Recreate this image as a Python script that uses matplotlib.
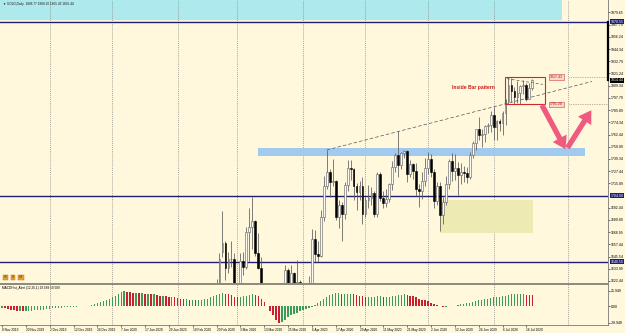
import numpy as np
import matplotlib
matplotlib.use('Agg')
import matplotlib.pyplot as plt
from matplotlib.patches import Rectangle
from matplotlib.lines import Line2D

plt.rcParams['font.family'] = ['Liberation Sans', 'DejaVu Sans']

BG = '#FFF8DC'
NAVY = '#1E1E74'
PINK = '#F05A7E'
FS = 2.5

# one bar per trading day, bar 0 = 8 Nov 2019, a date label every 8 bars
date_labels = ['8 Nov 2019', '20 Nov 2019', '2 Dec 2019', '12 Dec 2019', '24 Dec 2019',
               '7 Jan 2020', '17 Jan 2020', '29 Jan 2020', '10 Feb 2020', '20 Feb 2020',
               '3 Mar 2020', '13 Mar 2020', '25 Mar 2020', '6 Apr 2020', '17 Apr 2020',
               '29 Apr 2020', '11 May 2020', '21 May 2020', '2 Jun 2020', '12 Jun 2020',
               '24 Jun 2020', '6 Jul 2020', '16 Jul 2020']
month_bars = [16, 37, 59, 79, 101, 122, 143, 165, 190]

# candles from 18 Feb 2020 (bar 70) to 20 Jul 2020, earlier ones are below the window
start_bar = 70
opens = [1581, 1601, 1611, 1620, 1650, 1659, 1635, 1643, 1643, 1586,
         1590, 1641, 1636, 1669, 1674, 1680, 1649, 1635, 1577, 1530,
         1512, 1528, 1477, 1471, 1498, 1555, 1633, 1611, 1630, 1617,
         1621, 1577, 1591, 1613, 1620, 1662, 1648, 1646, 1683, 1713,
         1727, 1717, 1718, 1683, 1695, 1686, 1714, 1730, 1729, 1713,
         1707, 1713, 1686, 1700, 1702, 1706, 1686, 1725, 1702, 1697,
         1701, 1715, 1731, 1743, 1733, 1745, 1747, 1725, 1734, 1728,
         1710, 1708, 1718, 1730, 1739, 1727, 1699, 1713, 1685, 1698,
         1715, 1737, 1728, 1730, 1724, 1727, 1726, 1722, 1743, 1754,
         1768, 1762, 1763, 1771, 1772, 1781, 1770, 1775, 1774, 1783,
         1795, 1810, 1804, 1798, 1802, 1809, 1810, 1797, 1807]
highs = [1604, 1612, 1624, 1649, 1689, 1660, 1650, 1660, 1649, 1610,
         1649, 1650, 1674, 1692, 1703, 1681, 1668, 1645, 1594, 1575,
         1548, 1547, 1504, 1518, 1564, 1637, 1635, 1637, 1631, 1642,
         1623, 1594, 1617, 1627, 1672, 1671, 1660, 1690, 1723, 1747.7,
         1729, 1739, 1719, 1700, 1698, 1717, 1738, 1738, 1730, 1716,
         1718, 1722, 1703, 1714, 1712, 1708, 1727, 1727, 1708, 1710,
         1716, 1737, 1745, 1765.4, 1746, 1748, 1748, 1738, 1735, 1735,
         1715, 1727, 1740, 1746, 1744, 1729, 1717, 1717, 1703, 1723,
         1739, 1745, 1744, 1736, 1735, 1732, 1731, 1746, 1756, 1768,
         1779, 1768, 1772, 1774, 1785, 1789, 1776, 1777, 1785, 1797,
         1817.4, 1816.5, 1808, 1814, 1810, 1815, 1812, 1812, 1816]
lows = [1580, 1599, 1603, 1618, 1645, 1623, 1630, 1636, 1563, 1573,
        1585, 1628, 1634, 1641, 1653, 1646, 1634, 1567, 1504, 1451,
        1467, 1474, 1460, 1463, 1483, 1554, 1591, 1601, 1608, 1610,
        1571, 1567, 1576, 1605, 1612, 1640, 1640, 1645, 1680, 1710,
        1703, 1713, 1681, 1673, 1660, 1682, 1708, 1719, 1700, 1690,
        1700, 1677, 1683, 1692, 1695, 1683, 1683, 1699, 1692, 1693,
        1698, 1709, 1727, 1722, 1729, 1740, 1717, 1722, 1720, 1704,
        1693, 1701, 1713, 1725, 1722, 1692, 1695, 1670, 1677, 1695,
        1710, 1718, 1719, 1705, 1715, 1717, 1716, 1720, 1740, 1748,
        1757, 1751, 1755, 1764, 1765, 1757, 1757, 1766, 1762, 1772,
        1791.3, 1794, 1792, 1793, 1792, 1801, 1795, 1797, 1805]
closes = [1601, 1611, 1620, 1643, 1659, 1635, 1643, 1643, 1585, 1590,
          1641, 1636, 1669, 1674, 1680, 1649, 1635, 1577, 1530, 1512,
          1528, 1477, 1471, 1498, 1555, 1633, 1611, 1630, 1617, 1621,
          1577, 1591, 1613, 1620, 1662, 1648, 1646, 1683, 1713, 1727,
          1717, 1718, 1683, 1695, 1686, 1714, 1730, 1729, 1713, 1707,
          1713, 1686, 1700, 1702, 1706, 1686, 1725, 1702, 1697, 1701,
          1715, 1731, 1743, 1733, 1745, 1747, 1725, 1734, 1728, 1710,
          1708, 1718, 1730, 1739, 1727, 1699, 1713, 1685, 1698, 1715,
          1737, 1728, 1730, 1724, 1727, 1726, 1722, 1743, 1754, 1768,
          1762, 1763, 1771, 1772, 1781, 1770, 1775, 1774, 1783, 1795,
          1810, 1804, 1798, 1802, 1809, 1810, 1797, 1807, 1814.44]

# MACD histogram, bars 0..178
macd = [-3, -4, -5, -6, -7, -8, -8, -9, -9, -8,
        -8, -7, -7, -6, -6, -5, -5, -4, -4, -3,
        -3, -2, -2, -2, -1, -1, 0, 0, 1, 1,
        2, 3, 5, 7, 9, 11, 13, 16, 18, 21,
        24, 25.949, 25, 24, 23, 23, 22, 22, 21, 21,
        20, 20, 19, 18, 18, 17, 16, 16, 15, 14,
        13, 12, 12, 11, 11, 10, 10, 11, 12, 13,
        15, 17, 19, 21, 22, 21, 20, 19, 16, 15,
        16, 17, 18, 19, 20, 19, 17, 13, 7, 0,
        -8, -16, -23, -28.948, -27, -23, -19, -15, -13, -11,
        -9, -7, -5, -3, -1, 2, 5, 8, 12, 16,
        19, 21, 22, 22, 21, 21, 21, 21, 20, 19,
        18, 17, 16, 16, 16, 16, 17, 17, 16, 16,
        16, 17, 18, 19, 19, 20, 19, 18, 17, 15,
        13, 11, 10, 8, 6, 4, 2, 0, -1, -1,
        0, 0, 1, 2, 3, 4, 5, 6, 7, 9,
        10, 11, 12, 13, 14, 15, 15, 16, 17, 18,
        19, 20, 20, 20, 20, 20, 19.8, 19.7, 19.589]

price_ticks = [1879.65, 1867.79, 1856.24, 1844.34, 1832.79, 1821.24, 1809.34, 1797.79,
               1785.89, 1774.34, 1762.44, 1750.89, 1739.34, 1727.44, 1715.89, 1692.44,
               1680.89, 1668.99, 1657.44, 1645.54, 1633.99, 1622.44]
hlines = [1870.55, 1704.00, 1640.50]
bid = 1814.44
box_top, box_bottom = 1817.43, 1791.28
# trend line through the 14 Apr and 18 May highs
trend_bars = [109, 133]
trend_prices = [1747.7, 1765.4]


def setup_axes(fig):
    ax = fig.add_axes([0, 1 - 283 / 333, 608 / 625, 283 / 333])
    axm = fig.add_axes([0, 1 - 325 / 333, 608 / 625, 41 / 333])
    for a in (ax, axm):
        a.set_facecolor(BG)
        a.set_xlim(-0.67, 203.4)
        for s in ('top', 'left'):
            a.spines[s].set_visible(False)
        a.spines['right'].set_color('#777777')
        a.spines['right'].set_linewidth(0.6)
        a.spines['bottom'].set_color('#777777')
        a.spines['bottom'].set_linewidth(0.6)
        a.yaxis.tick_right()
        a.tick_params(axis='y', direction='out', length=1.2, width=0.4, pad=0.6,
                      labelsize=FS, colors='black')
        for b in month_bars:
            a.axvline(b, color='#8a8a8a', lw=0.5, ls=(0, (1.5, 1.5)), zorder=0.5)
    ax.set_ylim(1620.2, 1891.4)
    ax.set_xticks([])
    return ax, axm


def draw_zones(ax):
    ax.add_patch(Rectangle((-1, 1872.3), 189, 40, fc='#AEE9EE', ec='none', zorder=0.3))
    ax.add_patch(Rectangle((86, 1742.2), 109.6, 7, fc='#A2CAEE', ec='none', zorder=0.6))
    ax.add_patch(Rectangle((147, 1668.5), 31.2, 31.3, fc='#EEEAB4', ec='none', zorder=0.6))
    for p in hlines:
        ax.axhline(p, color=NAVY, lw=1.0, zorder=1)


def draw_candles(ax):
    x = np.arange(start_bar, start_bar + len(opens))
    o, h, l, c = map(np.array, (opens, highs, lows, closes))
    up = c >= o
    ax.vlines(x, l, h, color='#5a5a5a', lw=0.55, zorder=2)
    ax.bar(x[up], (c - o)[up], bottom=o[up], width=0.62, color='#fbfbfb',
           edgecolor='#5a5a5a', lw=0.4, zorder=3)
    ax.bar(x[~up], (c - o)[~up], bottom=o[~up], width=0.62, color='black',
           edgecolor='black', lw=0.4, zorder=3)


def draw_objects(ax):
    slope = (trend_prices[1] - trend_prices[0]) / (trend_bars[1] - trend_bars[0])
    xe = 198
    ax.plot([trend_bars[0], xe], [trend_prices[0], trend_prices[0] + slope * (xe - trend_bars[0])],
            color='#555555', lw=0.5, ls=(0, (5, 3)), zorder=4)
    ax.plot([169.5, 181.5], [1816, 1810.5], color='#555555', lw=0.5, ls=(0, (4, 3)), zorder=4)
    ax.add_patch(Rectangle((168.8, box_bottom), 13.4, box_top - box_bottom, fc='none',
                           ec='#D02828', lw=0.8, zorder=5))
    for p in (box_top, box_bottom):
        ax.text(184, p, f'{p:.2f}', fontsize=FS, color='#B01818', va='center', ha='left',
                bbox=dict(fc='#F6D9C8', ec='#D04040', lw=0.4, pad=0.6), zorder=6)
        ax.plot([190.2, 203.4], [p, p], color='#8a6a6a', lw=0.5, ls=(0, (1, 1.5)), zorder=4)
    ax.text(151, 1807.5, 'Inside Bar pattern', fontsize=3.6, color='#C81E1E',
            fontweight='bold', va='center', ha='left', zorder=6)
    arrow = dict(arrowstyle='simple,head_length=0.75,head_width=0.95,tail_width=0.32',
                 color=PINK, lw=0, mutation_scale=12)
    ax.annotate('', xy=(189.6, 1746), xytext=(180.8, 1793), arrowprops=arrow, zorder=7)
    ax.annotate('', xy=(198.3, 1788), xytext=(189.3, 1747.5), arrowprops=arrow, zorder=7)


def draw_price_axis(ax):
    ax.set_yticks(price_ticks)
    ax.set_yticklabels([f'{p:.2f}' for p in price_ticks])
    tr = ax.get_yaxis_transform()
    for p in hlines:
        ax.text(1.004, p, f'{p:.2f}', transform=tr, fontsize=FS, color='white', va='center',
                ha='left', bbox=dict(fc=NAVY, ec='none', pad=0.3), clip_on=False, zorder=8)
    ax.text(1.004, bid, f'{bid:.2f}', transform=tr, fontsize=FS, color='white', va='center',
            ha='left', bbox=dict(fc='black', ec='none', pad=0.3), clip_on=False, zorder=8)
    ax.plot([1.0, 1.0], [bid, hlines[0]], transform=tr, color='black', lw=1.6,
            clip_on=False, zorder=7)


def draw_macd(axm):
    vals = np.array(macd)
    idx = np.arange(len(vals))
    prev = np.concatenate([[vals[0]], vals[:-1]])
    colors = np.where(vals >= prev, '#3C9A5A', '#C8202C')
    axm.bar(idx, vals, width=0.45, color=colors, zorder=2)
    axm.set_ylim(-32.4, 37.95)
    axm.set_yticks([25.949, 0, -28.948])
    axm.set_yticklabels(['25.949', '0.00', '-28.948'])
    axm.set_xticks(np.arange(len(date_labels)) * 8)
    axm.set_xticklabels(date_labels, ha='left')
    axm.tick_params(axis='x', direction='out', length=1.5, width=0.4, pad=0.8,
                    labelsize=FS * 0.95, colors='black')
    axm.text(0.004, 0.9, 'MACDHist_Alert (12,26,1) 19.589 19.589', transform=axm.transAxes,
             fontsize=FS * 0.9, va='center', ha='left', color='black')


def main():
    fig = plt.figure(figsize=(6.25, 3.33), dpi=100)
    fig.patch.set_facecolor(BG)
    ax, axm = setup_axes(fig)
    draw_zones(ax)
    draw_candles(ax)
    draw_objects(ax)
    draw_price_axis(ax)
    draw_macd(axm)

    fig.add_artist(Line2D([0, 608 / 625], [1 - 283.5 / 333] * 2, color='#8c8c7c', lw=1.4))
    fig.text(3 / 625, 1 - 4 / 333, '\u25bc GOLD,Daily  1806.77 1808.20 1805.43 1806.44',
             fontsize=FS * 0.9, va='center', ha='left', color='#1a1a1a')
    for i, t in enumerate(['H4', 'D1', 'W1']):
        fig.text((4 + i * 7.5) / 625, 1 - 277.5 / 333, t, fontsize=FS * 0.75, color='#5a3a00',
                 va='center', ha='left', bbox=dict(fc='#E9A23B', ec='#B07010', lw=0.3, pad=0.5))

    fig.savefig('out.png', dpi=100, facecolor=BG)


if __name__ == '__main__':
    main()
